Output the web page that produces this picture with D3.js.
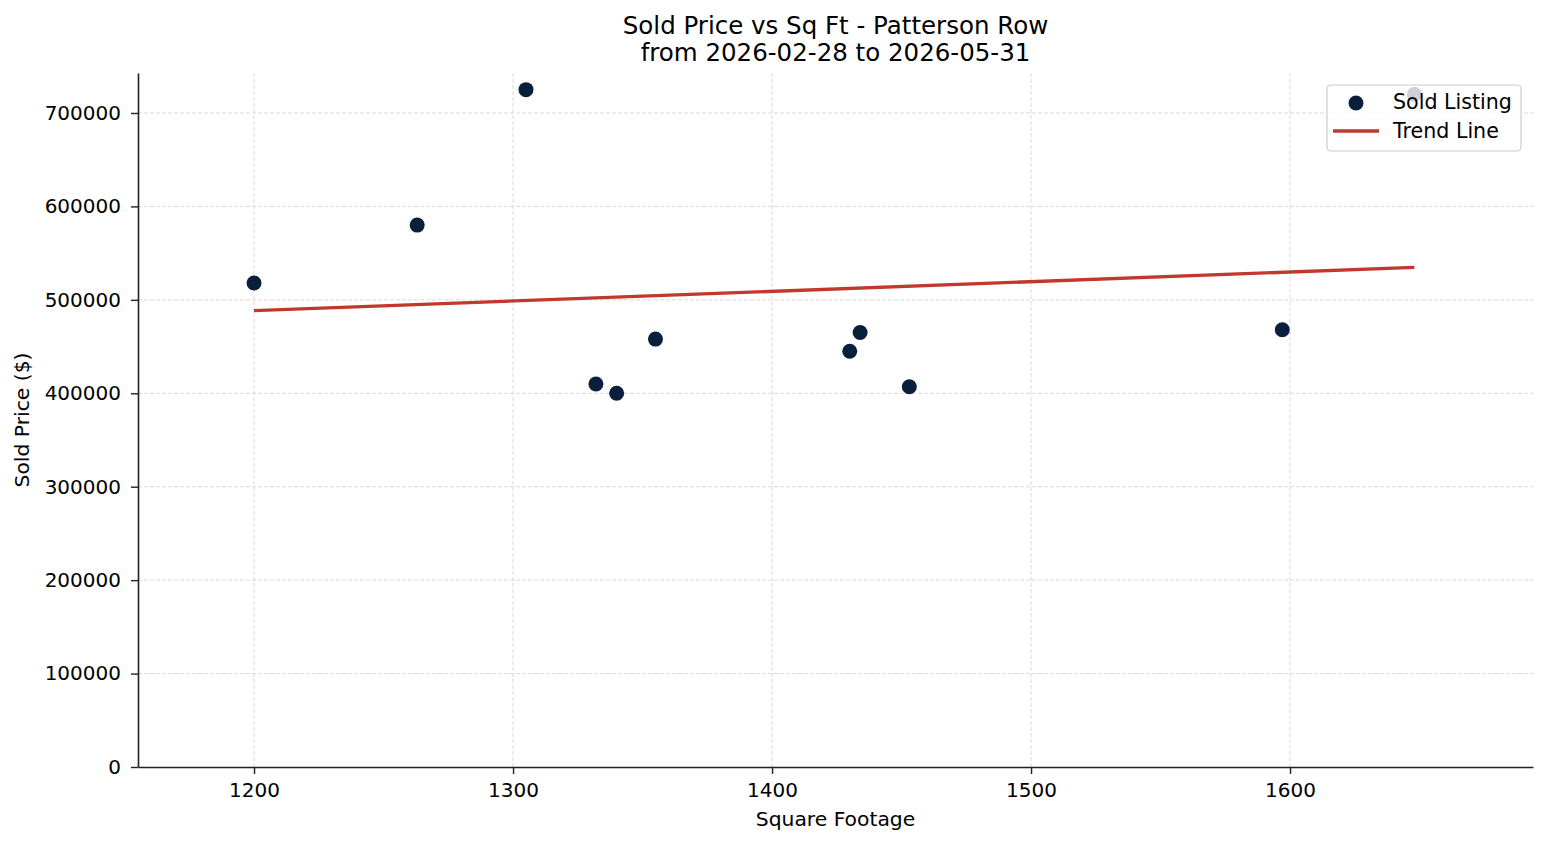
<!DOCTYPE html>
<html>
<head>
<meta charset="utf-8">
<script src="https://cdn.jsdelivr.net/npm/d3@7"></script>
<style>
  body { margin: 0; background: #fff; }
  text { font-family: "DejaVu Sans", sans-serif; fill: #000; }
</style>
</head>
<body>
<svg id="chart" width="1547" height="845"></svg>
<script>
// sold listings
var sqft = [1200, 1263, 1305, 1332, 1340, 1355, 1430, 1434, 1453, 1597, 1648];
var price = [518000, 580000, 725000, 410000, 400000, 458000, 445000, 465000, 407000, 468000, 720000];
var xTicks = [1200, 1300, 1400, 1500, 1600];
var yTicks = [0, 100000, 200000, 300000, 400000, 500000, 600000, 700000];

var svgWidth = 1547;
var svgHeight = 845;
var margin = { top: 73, bottom: 78, left: 138, right: 14 };

var svg = d3.select("#chart");

var x = d3.scaleLinear()
  .domain([1155.2, 1693.8])
  .range([margin.left, svgWidth - margin.right]);
var y = d3.scaleLinear()
  .domain([0, 742800])
  .range([svgHeight - margin.bottom, margin.top]);

// grid
var grid = svg.append("g").attr("class", "grid");
xTicks.forEach(function(t) {
  grid.append("line")
    .attr("x1", x(t)).attr("x2", x(t))
    .attr("y1", y.range()[0]).attr("y2", y.range()[1])
    .style("stroke", "#d0d0d0").style("stroke-width", "0.8px")
    .style("stroke-dasharray", "4,2");
});
yTicks.forEach(function(t) {
  if (t == 0) return;
  grid.append("line")
    .attr("x1", x.range()[0]).attr("x2", x.range()[1])
    .attr("y1", y(t)).attr("y2", y(t))
    .style("stroke", "#d0d0d0").style("stroke-width", "0.8px")
    .style("stroke-dasharray", "4,2");
});

// trend line (least squares)
var mx = d3.mean(sqft), my = d3.mean(price);
var sxy = 0, sxx = 0;
for (var i = 0; i < sqft.length; i++) {
  sxy += (sqft[i] - mx) * (price[i] - my);
  sxx += (sqft[i] - mx) * (sqft[i] - mx);
}
var slope = sxy / sxx;
var intercept = my - slope * mx;
var xMin = d3.min(sqft), xMax = d3.max(sqft);

// points
svg.append("g").selectAll("circle")
  .data(sqft)
  .enter()
  .append("circle")
  .attr("cx", function(d) { return x(d); })
  .attr("cy", function(d, i) { return y(price[i]); })
  .attr("r", 7.5)
  .style("fill", "#0a1f3c");

svg.append("line")
  .attr("x1", x(xMin)).attr("y1", y(slope * xMin + intercept))
  .attr("x2", x(xMax)).attr("y2", y(slope * xMax + intercept))
  .style("stroke", "#c0392b")
  .style("stroke-width", "3.4px");

// axes
var xAxis = svg.append("g")
  .attr("transform", "translate(0," + y.range()[0] + ")")
  .call(d3.axisBottom(x).tickValues(xTicks).tickSize(7).tickSizeOuter(0).tickPadding(9).tickFormat(d3.format("d")));
var yAxis = svg.append("g")
  .attr("transform", "translate(" + x.range()[0] + ",0)")
  .call(d3.axisLeft(y).tickValues(yTicks).tickSize(7).tickSizeOuter(0).tickPadding(10).tickFormat(d3.format("d")));
[xAxis, yAxis].forEach(function(a) {
  a.selectAll("text").style("font-size", "20px").style("font-family", "DejaVu Sans");
  a.select(".domain").style("stroke", "#222").style("stroke-width", "1.6px");
  a.selectAll(".tick line").style("stroke", "#222").style("stroke-width", "1.4px");
});

// labels
svg.append("text")
  .attr("x", (x.range()[0] + x.range()[1]) / 2)
  .attr("y", 826)
  .attr("text-anchor", "middle")
  .style("font-size", "20.3px")
  .text("Square Footage");
svg.append("text")
  .attr("transform", "translate(28.5," + (y.range()[0] + y.range()[1]) / 2 + ") rotate(-90)")
  .attr("text-anchor", "middle")
  .style("font-size", "20.3px")
  .text("Sold Price ($)");

svg.append("text")
  .attr("x", (x.range()[0] + x.range()[1]) / 2)
  .attr("y", 34)
  .attr("text-anchor", "middle")
  .style("font-size", "24.5px")
  .text("Sold Price vs Sq Ft - Patterson Row");
svg.append("text")
  .attr("x", (x.range()[0] + x.range()[1]) / 2)
  .attr("y", 61)
  .attr("text-anchor", "middle")
  .style("font-size", "24.5px")
  .text("from 2026-02-28 to 2026-05-31");

// legend
var leg = svg.append("g").attr("transform", "translate(1327,85)");
leg.append("rect")
  .attr("width", 194).attr("height", 66)
  .attr("rx", 4)
  .style("fill", "#fff").style("fill-opacity", 0.8)
  .style("stroke", "#cccccc").style("stroke-width", "1.2px");
leg.append("circle").attr("cx", 29).attr("cy", 18).attr("r", 7.5).style("fill", "#0a1f3c");
leg.append("text").attr("x", 66).attr("y", 24).style("font-size", "20.6px").text("Sold Listing");
leg.append("line").attr("x1", 6).attr("x2", 52).attr("y1", 46).attr("y2", 46)
  .style("stroke", "#c0392b").style("stroke-width", "3.4px");
leg.append("text").attr("x", 66).attr("y", 53).style("font-size", "20.6px").text("Trend Line");
</script>
</body>
</html>
